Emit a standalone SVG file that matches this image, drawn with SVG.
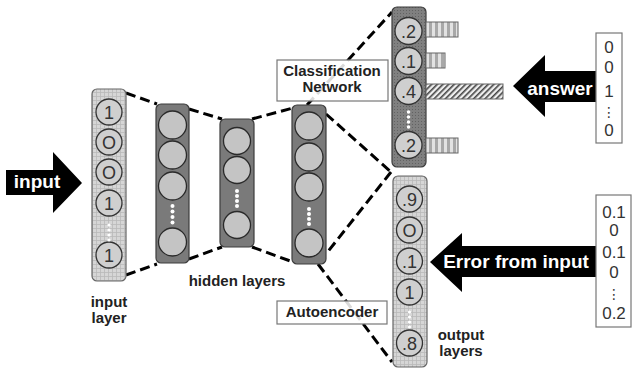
<svg xmlns="http://www.w3.org/2000/svg" width="632" height="372" viewBox="0 0 632 372">
<defs>
<pattern id="grid" width="4" height="4" patternUnits="userSpaceOnUse">
<rect width="4" height="4" fill="#d6d6d6"/>
<path d="M0 0.5H4M0.5 0V4" stroke="#b9b9b9" stroke-width="0.8"/>
</pattern>
<pattern id="dots" width="3" height="3" patternUnits="userSpaceOnUse">
<rect width="3" height="3" fill="#808080"/>
<rect x="1" y="1" width="1" height="1" fill="#626262"/>
</pattern>
<pattern id="vstripe" width="6" height="6" patternUnits="userSpaceOnUse">
<rect width="6" height="6" fill="#e2e2e2"/>
<rect x="3" width="3" height="6" fill="#a8a8a8"/>
</pattern>
<pattern id="hatch" width="4" height="4" patternUnits="userSpaceOnUse" patternTransform="rotate(45)">
<rect width="4" height="4" fill="#eeeeee"/>
<rect width="1.6" height="4" fill="#444"/>
</pattern>
<style>
.light{fill:url(#grid);stroke:#666;stroke-width:1.2}
.dark{fill:#7a7a7a;stroke:#3c3c3c;stroke-width:1.2}
.cls{fill:url(#dots);stroke:#3c3c3c;stroke-width:1.2}
.node{fill:#c4c4c4;stroke:#2a2a2a;stroke-width:1.3}
.nodel{fill:#cfcfcf;stroke:#333;stroke-width:1.3}
.num{font-family:"Liberation Sans",Arial,sans-serif;font-size:18px;fill:#333;text-anchor:middle}
.vec{font-family:"Liberation Sans",Arial,sans-serif;font-size:17px;fill:#333;text-anchor:middle}
.ell{font-family:"DejaVu Sans",sans-serif;font-size:14px;fill:#333;text-anchor:middle}
.lbl{font-family:"Liberation Sans",Arial,sans-serif;font-size:15px;font-weight:bold;fill:#222;text-anchor:middle}
.arrtxt{font-family:"Liberation Sans",Arial,sans-serif;font-size:19px;font-weight:bold;fill:#fff;text-anchor:middle}
.dot{fill:#fff}
.box{fill:#fff;fill-opacity:0.85;stroke:#777;stroke-width:1.2}
.conn{stroke:#000;stroke-width:3;stroke-dasharray:10 5;fill:none}
.bar{stroke:#666;stroke-width:1}
</style>
</defs>
<rect width="632" height="372" fill="#fff"/>

<g id="connectors">
<line class="conn" x1="126" y1="93" x2="157" y2="104"/>
<line class="conn" x1="189" y1="109" x2="222" y2="119"/>
<line class="conn" x1="252" y1="119" x2="293" y2="108"/>
<line class="conn" x1="307" y1="105" x2="392" y2="12"/>
<line class="conn" x1="326" y1="114" x2="391" y2="172"/>
<line class="conn" x1="391" y1="172" x2="326" y2="254"/>
<line class="conn" x1="318" y1="264" x2="392" y2="362"/>
<line class="conn" x1="126" y1="275" x2="157" y2="264"/>
<line class="conn" x1="189" y1="259" x2="222" y2="247"/>
<line class="conn" x1="252" y1="247" x2="293" y2="262"/>
</g>

<g id="input-arrow">
<polygon points="6,170 53,170 53,152 82,183 53,213 53,195 6,195" fill="#000"/>
<text class="arrtxt" x="37" y="188">input</text>
</g>

<g id="input-layer">
<rect class="light" x="92" y="89" width="34" height="192" rx="5"/>
<circle class="nodel" cx="109" cy="112" r="13"/>
<circle class="nodel" cx="109" cy="142" r="13"/>
<circle class="nodel" cx="109" cy="172" r="13"/>
<circle class="nodel" cx="109" cy="203" r="13"/>
<circle class="nodel" cx="109" cy="255" r="13"/>
<text class="num" x="109" y="118.5">1</text>
<text class="num" x="109" y="148.5">O</text>
<text class="num" x="109" y="178.5">O</text>
<text class="num" x="109" y="209.5">1</text>
<text class="num" x="109" y="261.5">1</text>
<circle class="dot" cx="109" cy="225" r="1.6"/>
<circle class="dot" cx="109" cy="230" r="1.6"/>
<circle class="dot" cx="109" cy="235" r="1.6"/>
<circle class="dot" cx="109" cy="240" r="1.6"/>
<text class="lbl" x="109" y="307">input</text>
<text class="lbl" x="109" y="323">layer</text>
</g>

<g id="hidden-layer-1">
<rect class="dark" x="156" y="104" width="33" height="159" rx="5"/>
<circle class="node" cx="172.5" cy="125" r="14"/>
<circle class="node" cx="172.5" cy="155" r="14"/>
<circle class="node" cx="172.5" cy="186" r="14"/>
<circle class="node" cx="172.5" cy="242" r="14"/>
<circle class="dot" cx="172.5" cy="206" r="2"/>
<circle class="dot" cx="172.5" cy="211.5" r="2"/>
<circle class="dot" cx="172.5" cy="217" r="2"/>
<circle class="dot" cx="172.5" cy="222.5" r="2"/>
</g>

<g id="hidden-layer-2">
<rect class="dark" x="220" y="119" width="34" height="128" rx="5"/>
<circle class="node" cx="237" cy="141" r="13.5"/>
<circle class="node" cx="237" cy="170" r="13.5"/>
<circle class="node" cx="237" cy="225" r="13.5"/>
<circle class="dot" cx="237" cy="191" r="2"/>
<circle class="dot" cx="237" cy="196" r="2"/>
<circle class="dot" cx="237" cy="201" r="2"/>
<circle class="dot" cx="237" cy="206" r="2"/>
</g>

<g id="hidden-layer-3">
<rect class="dark" x="292" y="105" width="34" height="159" rx="5"/>
<circle class="node" cx="309" cy="126" r="14"/>
<circle class="node" cx="309" cy="157" r="14"/>
<circle class="node" cx="309" cy="187" r="14"/>
<circle class="node" cx="309" cy="243" r="14"/>
<circle class="dot" cx="309" cy="209" r="2"/>
<circle class="dot" cx="309" cy="214" r="2"/>
<circle class="dot" cx="309" cy="219" r="2"/>
<circle class="dot" cx="309" cy="224" r="2"/>
<text class="lbl" x="237" y="286">hidden layers</text>
</g>

<g id="classification-label">
<rect class="box" x="277" y="60" width="111" height="41"/>
<text class="lbl" x="332" y="76">Classification</text>
<text class="lbl" x="332" y="92">Network</text>
</g>

<g id="autoencoder-label">
<rect class="box" x="277" y="301" width="110" height="23"/>
<text class="lbl" x="332" y="317">Autoencoder</text>
</g>

<g id="classification-layer">
<rect class="cls" x="392" y="7" width="34" height="160" rx="5"/>
<circle class="nodel" cx="408.5" cy="31" r="13.5"/>
<circle class="nodel" cx="408.5" cy="61" r="13.5"/>
<circle class="nodel" cx="408.5" cy="91" r="13.5"/>
<circle class="nodel" cx="408.5" cy="145" r="13.5"/>
<text class="num" x="408.5" y="37.5">.2</text>
<text class="num" x="408.5" y="67.5">.1</text>
<text class="num" x="408.5" y="97.5">.4</text>
<text class="num" x="408.5" y="151.5">.2</text>
<circle class="dot" cx="408.5" cy="112" r="1.8"/>
<circle class="dot" cx="408.5" cy="117" r="1.8"/>
<circle class="dot" cx="408.5" cy="122" r="1.8"/>
<circle class="dot" cx="408.5" cy="127" r="1.8"/>
<rect class="bar" x="426" y="22" width="32" height="15" fill="url(#vstripe)"/>
<rect class="bar" x="426" y="53" width="19" height="15" fill="url(#vstripe)"/>
<rect class="bar" x="426" y="84" width="77" height="15" fill="url(#hatch)"/>
<rect class="bar" x="426" y="138" width="32" height="15" fill="url(#vstripe)"/>
</g>

<g id="output-layer">
<rect class="light" x="393" y="176" width="34" height="191" rx="5"/>
<circle class="nodel" cx="409.5" cy="199" r="13"/>
<circle class="nodel" cx="409.5" cy="230" r="13"/>
<circle class="nodel" cx="409.5" cy="261" r="13"/>
<circle class="nodel" cx="409.5" cy="292" r="13"/>
<circle class="nodel" cx="409.5" cy="343" r="13"/>
<text class="num" x="409.5" y="205.5">.9</text>
<text class="num" x="409.5" y="236.5">O</text>
<text class="num" x="409.5" y="267.5">.1</text>
<text class="num" x="409.5" y="298.5">1</text>
<text class="num" x="409.5" y="349.5">.8</text>
<circle class="dot" cx="409.5" cy="312" r="1.6"/>
<circle class="dot" cx="409.5" cy="317" r="1.6"/>
<circle class="dot" cx="409.5" cy="322" r="1.6"/>
<circle class="dot" cx="409.5" cy="327" r="1.6"/>
<text class="lbl" x="461" y="340">output</text>
<text class="lbl" x="461" y="356">layers</text>
</g>

<g id="answer-arrow">
<polygon points="597,71 545,71 545,55 513,86 545,117 545,102 597,102" fill="#000"/>
<text class="arrtxt" x="560" y="95">answer</text>
</g>

<g id="answer-vector">
<rect x="596" y="33" width="26" height="110" fill="#fff" stroke="#777" stroke-width="1.2"/>
<text class="vec" x="609" y="53">0</text>
<text class="vec" x="609" y="73">0</text>
<text class="vec" x="609" y="97">1</text>
<text class="ell" x="609" y="117">⋮</text>
<text class="vec" x="609" y="136">0</text>
</g>

<g id="error-arrow">
<polygon points="597,246 462,246 462,233 430,262 462,292 462,277 597,277" fill="#000"/>
<text class="arrtxt" x="516" y="268">Error from input</text>
</g>

<g id="error-vector">
<rect x="596" y="195" width="35" height="132" fill="#fff" stroke="#777" stroke-width="1.2"/>
<text class="vec" x="614" y="218">0.1</text>
<text class="vec" x="614" y="236">0</text>
<text class="vec" x="614" y="258">0.1</text>
<text class="vec" x="614" y="278">0</text>
<text class="ell" x="614" y="299">⋮</text>
<text class="vec" x="614" y="319">0.2</text>
</g>
</svg>
